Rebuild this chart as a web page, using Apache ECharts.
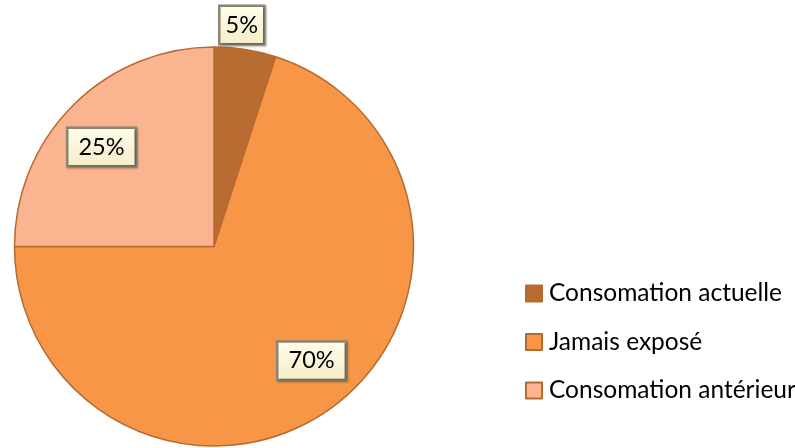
<!DOCTYPE html>
<html>
<head>
<meta charset="utf-8">
<script src="https://cdn.jsdelivr.net/npm/echarts@6/dist/echarts.min.js"></script>
<style>
  html, body { margin: 0; padding: 0; background: #ffffff; }
  #chart { width: 795px; height: 448px; }
</style>
</head>
<body>
<div id="chart"></div>
<script>
// Tobacco exposure status, share of respondents (%)
const categories = ['Consomation actuelle', 'Jamais exposé', 'Consomation antérieur'];
const values = [5, 70, 25];
const sliceColors = ['#B96C31', '#F79646', '#FAB590'];

// Pie geometry
const CX = 214, CY = 246.5, R = 199.5;
// Per-slice label placement: 'out' sits just beyond the rim, otherwise a
// fraction of the radius; angle shift in degrees
const labelPlace = [
  { out: true, dist: 0, shift: -1 },
  { out: false, dist: 0.753, shift: -4.5 },
  { out: false, dist: 0.753, shift: -3.5 }
];

const total = values.reduce((a, b) => a + b, 0);
const midAngles = [];
let acc = 0;
values.forEach(v => {
  midAngles.push((acc + v / 2) / total * 2 * Math.PI);
  acc += v;
});

const chart = echarts.init(document.getElementById('chart'));
chart.setOption({
  animation: false,
  backgroundColor: '#ffffff',
  legend: {
    orient: 'vertical',
    left: 520,
    top: 276,
    itemWidth: 16,
    itemHeight: 16,
    itemGap: 23.5,
    icon: 'rect',
    data: categories,
    textStyle: { fontFamily: 'Lato', fontSize: 24.5, color: '#000000', lineHeight: 24, padding: [0, 0, 0, 2] }
  },
  series: [{
    type: 'pie',
    center: [CX, CY],
    radius: R,
    startAngle: 90,
    clockwise: true,
    silent: true,
    data: categories.map((name, i) => ({
      name: name,
      value: values[i],
      itemStyle: { color: sliceColors[i] },
      label: i === 0 ? { padding: [7, 5, 5, 5] } : {}
    })),
    itemStyle: { borderColor: '#B8692F', borderWidth: 1.5 },
    label: {
      show: true,
      position: 'inside',
      formatter: p => p.value + '%',
      fontFamily: 'Lato',
      fontSize: 23.5,
      color: '#000000',
      align: 'center',
      verticalAlign: 'middle',
      backgroundColor: {
        type: 'linear', x: 0, y: 0, x2: 0, y2: 1,
        colorStops: [
          { offset: 0, color: '#FFFDEB' },
          { offset: 1, color: '#F6EDC8' }
        ]
      },
      borderColor: '#8A8672',
      borderWidth: 2.5,
      padding: [7, 10, 5, 10],
      shadowColor: 'rgba(0,0,0,0.35)',
      shadowBlur: 2,
      shadowOffsetX: 1,
      shadowOffsetY: 1
    },
    labelLine: { show: false },
    labelLayout: function (params) {
      const i = params.dataIndex;
      const p = labelPlace[i];
      const a = midAngles[i] + p.shift * Math.PI / 180;
      if (p.out) {
        return {
          x: CX + R * Math.sin(a),
          y: CY - R * Math.cos(a) - 24
        };
      }
      const d = R * p.dist;
      return {
        x: CX + d * Math.sin(a),
        y: CY - d * Math.cos(a)
      };
    }
  }]
});
</script>
</body>
</html>
